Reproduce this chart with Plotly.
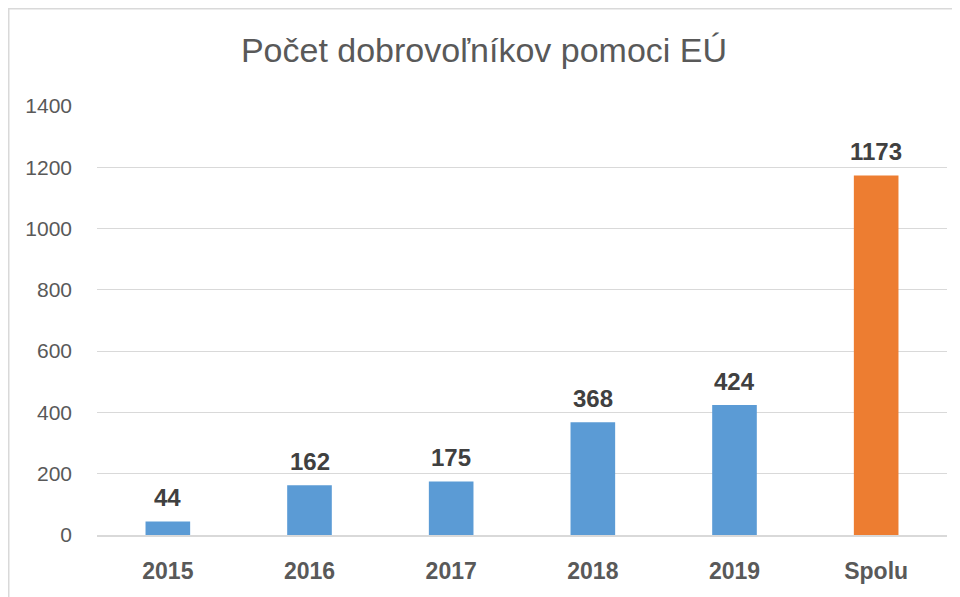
import plotly.graph_objects as go

categories = ["2015", "2016", "2017", "2018", "2019", "Spolu"]
values = [44, 162, 175, 368, 424, 1173]
colors = ["#5B9BD5"] * 5 + ["#ED7D31"]
title_text = "Počet dobrovoľníkov pomoci EÚ"

FONT = "Liberation Sans, Arial, sans-serif"
# page has an 8px body margin; figure coords = page coords - 8
W, H = 952, 589
L, R, T, B = 89, 939, 98, 527
pw, ph = R - L, B - T

fig = go.Figure(go.Bar(
    x=categories, y=values, marker=dict(color=colors, line=dict(width=0)),
    hoverinfo="x+y",
))

for i, v in enumerate(values):
    fig.add_annotation(x=i, y=v, text=f"<b>{v}</b>", showarrow=False,
                       yanchor="middle", yshift=24,
                       font=dict(family=FONT, size=24, color="#404040"))

fig.update_layout(
    width=W, height=H,
    margin=dict(l=L, r=W - R, t=T, b=H - B, pad=0),
    paper_bgcolor="white", plot_bgcolor="white",
    bargap=0.685,
    showlegend=False,
    title=dict(text=title_text, x=0.5, xanchor="center", y=1 - 42 / H, yanchor="middle",
               font=dict(family=FONT, size=34, color="#595959")),
    xaxis=dict(type="category", categoryarray=categories, categoryorder="array",
               range=[-0.5, len(categories) - 0.5],
               showgrid=False, showline=True, linecolor="#D9D9D9", linewidth=1.5,
               ticks="", tickfont=dict(family=FONT, size=23, color="#595959"),
               tickprefix="<b>", ticksuffix="</b>", ticklabelstandoff=15),
    yaxis=dict(range=[0, 1400], tick0=0, dtick=200, showgrid=True, gridcolor="#D9D9D9", gridwidth=1.3,
               zeroline=False, showline=False, ticks="",
               tickfont=dict(family=FONT, size=21, color="#595959"),
               ticklabelstandoff=24),
    shapes=[dict(type="rect", xref="paper", yref="paper",
                 x0=(0.75 - L) / pw, x1=(W + 5 - L) / pw,
                 y0=(B - (H + 5)) / ph, y1=(B - 0.75) / ph,
                 line=dict(color="#D9D9D9", width=1.5), fillcolor="rgba(0,0,0,0)", layer="below")],
)

fig.write_html("out.html")
